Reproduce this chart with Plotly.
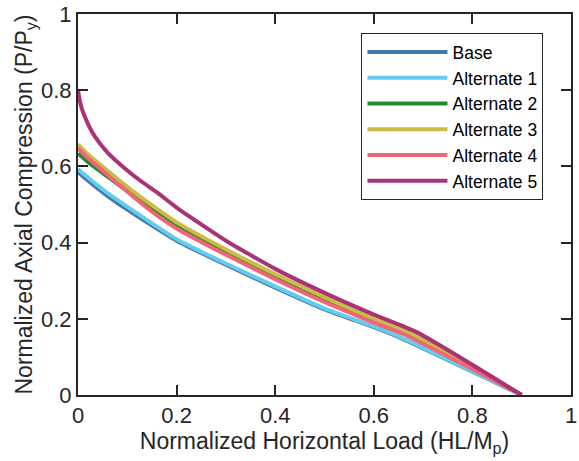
import plotly.graph_objects as go

# Interaction curves: normalized horizontal load vs normalized axial compression
series_names = ["Base", "Alternate 1", "Alternate 2", "Alternate 3", "Alternate 4", "Alternate 5"]
series_colors = ["#4477AA", "#66CCEE", "#228833", "#CCBB44", "#EE6677", "#AA3377"]

base_x = [0.0, 0.02, 0.04, 0.061, 0.082, 0.114, 0.14, 0.2, 0.3, 0.4, 0.5, 0.6, 0.645, 0.9]
base_y = [0.585, 0.563, 0.542, 0.521, 0.502, 0.475, 0.453, 0.405, 0.342, 0.282, 0.225, 0.178, 0.155, 0.0]

alt1_x = [0.0, 0.02, 0.04, 0.061, 0.082, 0.114, 0.14, 0.2, 0.3, 0.4, 0.5, 0.6, 0.645, 0.9]
alt1_y = [0.593, 0.571, 0.55, 0.529, 0.51, 0.482, 0.459, 0.409, 0.345, 0.285, 0.227, 0.18, 0.157, 0.0]

alt2_x = [0.0, 0.02, 0.04, 0.082, 0.136, 0.161, 0.2, 0.3, 0.4, 0.5, 0.6, 0.665, 0.9]
alt2_y = [0.634, 0.612, 0.592, 0.552, 0.503, 0.482, 0.447, 0.377, 0.312, 0.253, 0.196, 0.162, 0.0]

alt3_x = [0.0, 0.02, 0.04, 0.082, 0.136, 0.161, 0.2, 0.3, 0.4, 0.5, 0.6, 0.67, 0.9]
alt3_y = [0.658, 0.632, 0.61, 0.565, 0.511, 0.488, 0.453, 0.382, 0.317, 0.257, 0.2, 0.165, 0.0]

alt4_x = [0.0, 0.02, 0.04, 0.082, 0.148, 0.2, 0.3, 0.4, 0.5, 0.6, 0.66, 0.9]
alt4_y = [0.648, 0.622, 0.6, 0.553, 0.483, 0.437, 0.368, 0.304, 0.244, 0.19, 0.16, 0.0]

alt5_x = [0.0, 0.0025, 0.0074, 0.014, 0.021, 0.034, 0.061, 0.094, 0.128, 0.161, 0.2, 0.3, 0.4, 0.5, 0.6, 0.687, 0.9]
alt5_y = [0.8, 0.78, 0.753, 0.73, 0.709, 0.679, 0.635, 0.596, 0.561, 0.531, 0.492, 0.405, 0.331, 0.268, 0.211, 0.165, 0.0]

xs = [base_x, alt1_x, alt2_x, alt3_x, alt4_x, alt5_x]
ys = [base_y, alt1_y, alt2_y, alt3_y, alt4_y, alt5_y]

tick_vals = [0, 0.2, 0.4, 0.6, 0.8, 1]
tick_text = ["0", "0.2", "0.4", "0.6", "0.8", "1"]

FONT = "Liberation Sans, Arial, sans-serif"
INK = "#262626"

fig = go.Figure()
for name, color, x, y in zip(series_names, series_colors, xs, ys):
    fig.add_trace(go.Scatter(x=x, y=y, mode="lines", name=name,
                             line=dict(color=color, width=4, shape="spline", smoothing=0.5)))

axis_common = dict(
    range=[0, 1], tickvals=tick_vals, ticktext=tick_text,
    showline=True, linecolor=INK, linewidth=2, mirror="ticks",
    ticks="inside", ticklen=10, tickwidth=2, tickcolor=INK,
    showgrid=False, zeroline=False, ticklabeloverflow="allow",
    tickfont=dict(family=FONT, size=22, color=INK),
)

fig.update_layout(
    width=579, height=461,
    margin=dict(l=78, r=2, t=12, b=66),
    paper_bgcolor="white", plot_bgcolor="white",
    font=dict(family=FONT, size=22, color=INK),
    xaxis=dict(**axis_common,
               title=dict(text="Normalized Horizontal Load (HL/M<sub>p</sub>)",
                          font=dict(size=23), standoff=4)),
    yaxis=dict(**axis_common,
               title=dict(text="Normalized Axial Compression (P/P<sub>y</sub>)",
                          font=dict(size=23), standoff=2)),
    legend=dict(x=0.575, y=0.95, xanchor="left", yanchor="top",
                bgcolor="white", bordercolor=INK, borderwidth=1,
                font=dict(family=FONT, size=17.5, color="#000000"), itemwidth=80,
                tracegroupgap=0),
    showlegend=True,
)

fig.write_html("out.html")
